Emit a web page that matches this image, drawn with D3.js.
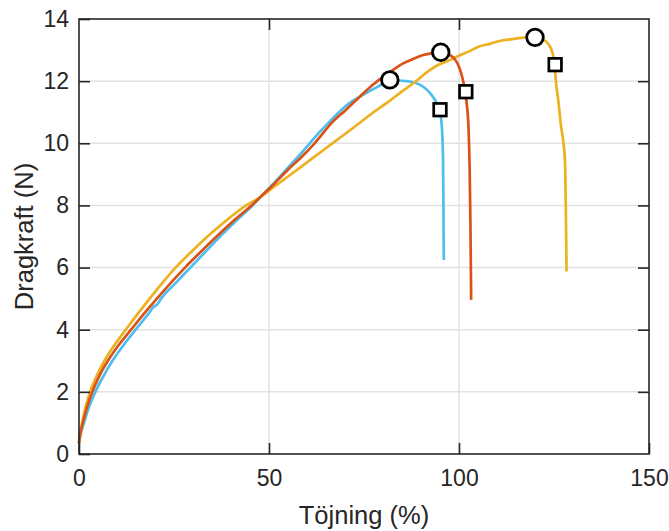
<!DOCTYPE html>
<html>
<head>
<meta charset="utf-8">
<script src="https://cdn.jsdelivr.net/npm/d3@7"></script>
<style>
  body { margin: 0; background: #fff; }
  text { font-family: "Liberation Sans", Arial, sans-serif; fill: #262626; }
</style>
</head>
<body>
<div id="chart"></div>
<script>
// strain (%) / force (N) curves
var blueCurve = [[0,0.35],[0.45,0.65],[1.3,1.0],[2.6,1.5],[4.3,2.0],[6.4,2.5],[8.8,3.0],[11.7,3.5],[14.9,4.0],[18.2,4.5],[19.8,4.75],[20.5,4.8],[21.6,5.0],[25.4,5.5],[29.3,6.0],[33.2,6.5],[37.1,7.0],[41.3,7.5],[45.7,8.0],[48,8.3],[51,8.68],[54,9.08],[57,9.48],[60.4,9.95],[63,10.32],[66,10.7],[68,10.95],[71,11.28],[73.9,11.5],[76,11.65],[78.3,11.8],[81.8,12.0],[84,12.02],[86.2,12.0],[88.5,11.95],[90.6,11.82],[92.5,11.6],[93.7,11.39],[95,11.0],[95.5,10.5],[95.8,9.5],[95.9,8.0],[96,6.24]];
var redCurve = [[0,0.35],[0.35,0.65],[1,1.0],[2.1,1.5],[3.5,2.0],[5.3,2.5],[7.6,3.0],[10.4,3.5],[13.7,4.0],[17,4.5],[20.5,5.0],[24.1,5.5],[27.9,6.0],[32,6.5],[36.2,7.0],[40.6,7.5],[45.4,8.0],[48,8.3],[51,8.65],[55,9.15],[58.5,9.55],[62,10.0],[67,10.72],[70,11.05],[73.9,11.5],[77,11.85],[80,12.14],[82.5,12.35],[85.3,12.57],[88,12.72],[90.6,12.84],[93,12.9],[95.2,12.93],[97.5,12.85],[99.5,12.6],[100.7,12.2],[101.5,11.75],[102,11.3],[102.5,10.5],[102.8,9.2],[103,7.5],[103.2,4.96]];
var yellowCurve = [[0,0.35],[0.3,0.65],[0.8,1.0],[1.7,1.5],[2.9,2.0],[4.6,2.5],[6.7,3.0],[9.3,3.5],[12.3,4.0],[15.4,4.5],[18.6,5.0],[21.9,5.5],[25.4,6.0],[29.5,6.5],[33.8,7.0],[38.6,7.5],[44,8.0],[47.5,8.25],[51,8.57],[55,8.93],[58,9.2],[62,9.57],[66.5,9.98],[70,10.3],[74,10.67],[77.5,11.0],[81,11.3],[85,11.67],[89,12.03],[92,12.33],[95,12.55],[98,12.7],[100,12.82],[102.5,12.95],[105,13.1],[108,13.2],[111,13.3],[114,13.35],[117,13.4],[120,13.41],[122,13.35],[123.5,13.2],[124.5,12.95],[125.1,12.6],[125.5,12.0],[126.2,11.3],[126.8,10.6],[127.5,10.0],[127.9,9.4],[128.1,8.0],[128.2,7.0],[128.3,5.87]];

// max force (circles) and break point (squares)
var maxPoints = [[81.8,12.04],[95.2,12.93],[120,13.41]];
var breakPoints = [[95,11.08],[101.8,11.66],[125.3,12.53]];

var xTicks = [0, 50, 100, 150];
var yTicks = [0, 2, 4, 6, 8, 10, 12, 14];
var xLabel = 'Töjning (%)';
var yLabel = 'Dragkraft (N)';

var width = 669, height = 531;
var margin = {left: 79, top: 19, right: 20, bottom: 77};
var w = width - margin.left - margin.right;
var h = height - margin.top - margin.bottom;

var svg = d3.select('#chart')
  .append('svg')
  .attr('width', width)
  .attr('height', height);

var g = svg.append('g')
  .attr('transform', 'translate(' + margin.left + ',' + margin.top + ')');

var x = d3.scaleLinear().domain([0, 150]).range([0, w]);
var y = d3.scaleLinear().domain([0, 14]).range([h, 0]);

// grid
g.append('g')
  .selectAll('line')
  .data(yTicks.slice(1, -1))
  .enter()
  .append('line')
  .attr('x1', 0).attr('x2', w)
  .attr('y1', function (d) { return y(d); })
  .attr('y2', function (d) { return y(d); })
  .attr('stroke', '#e2e2e2')
  .attr('stroke-width', 1.5);
g.append('g')
  .selectAll('line')
  .data(xTicks.slice(1, -1))
  .enter()
  .append('line')
  .attr('y1', 0).attr('y2', h)
  .attr('x1', function (d) { return x(d); })
  .attr('x2', function (d) { return x(d); })
  .attr('stroke', '#e2e2e2')
  .attr('stroke-width', 1.5);

// curves
var line = d3.line()
  .x(function (d) { return x(d[0]); })
  .y(function (d) { return y(d[1]); })
  .curve(d3.curveMonotoneX);

var series = [
  {data: blueCurve, color: '#4DBEEE'},
  {data: yellowCurve, color: '#EDB120'},
  {data: redCurve, color: '#D95319'}
];

series.forEach(function (s) {
  g.append('path')
    .datum(s.data)
    .attr('d', line)
    .attr('fill', 'none')
    .attr('stroke', s.color)
    .attr('stroke-width', 2.7)
    .attr('stroke-linejoin', 'round');
});

// axes with inward ticks on all four sides
function axis(gen, tr) {
  var a = g.append('g')
    .attr('transform', tr)
    .call(gen);
  a.select('.domain').remove();
  a.selectAll('.tick line').attr('stroke', '#262626').attr('stroke-width', 1.6);
  a.selectAll('.tick text')
    .style('font-size', '23px')
    .style('font-family', '"Liberation Sans", Arial, sans-serif')
    .attr('fill', '#262626');
  return a;
}

axis(d3.axisBottom(x).tickValues(xTicks).tickSize(-11).tickPadding(16).tickFormat(d3.format('d')),
  'translate(0,' + h + ')');
axis(d3.axisLeft(y).tickValues(yTicks).tickSize(-11).tickPadding(10).tickFormat(d3.format('d')),
  'translate(0,0)');
axis(d3.axisTop(x).tickValues(xTicks.slice(1, -1)).tickSize(-11).tickFormat(''),
  'translate(0,0)');
axis(d3.axisRight(y).tickValues(yTicks.slice(1, -1)).tickSize(-11).tickFormat(''),
  'translate(' + w + ',0)');

g.append('rect')
  .attr('width', w)
  .attr('height', h)
  .attr('fill', 'none')
  .attr('stroke', '#262626')
  .attr('stroke-width', 1.6);

// markers
g.selectAll('circle.max')
  .data(maxPoints)
  .enter()
  .append('circle')
  .attr('class', 'max')
  .attr('cx', function (d) { return x(d[0]); })
  .attr('cy', function (d) { return y(d[1]); })
  .attr('r', 8.3)
  .attr('fill', '#fff')
  .attr('stroke', '#000')
  .attr('stroke-width', 2.8);

g.selectAll('rect.brk')
  .data(breakPoints)
  .enter()
  .append('rect')
  .attr('class', 'brk')
  .attr('x', function (d) { return x(d[0]) - 6.3; })
  .attr('y', function (d) { return y(d[1]) - 6.3; })
  .attr('width', 12.6)
  .attr('height', 12.6)
  .attr('fill', '#fff')
  .attr('stroke', '#000')
  .attr('stroke-width', 2.7);

// axis labels
svg.append('text')
  .attr('x', margin.left + w / 2)
  .attr('y', 524)
  .attr('text-anchor', 'middle')
  .style('font-size', '25.5px')
  .text(xLabel);

svg.append('text')
  .attr('transform', 'translate(33,' + (margin.top + h / 2) + ') rotate(-90)')
  .attr('text-anchor', 'middle')
  .style('font-size', '25.5px')
  .text(yLabel);
</script>
</body>
</html>
